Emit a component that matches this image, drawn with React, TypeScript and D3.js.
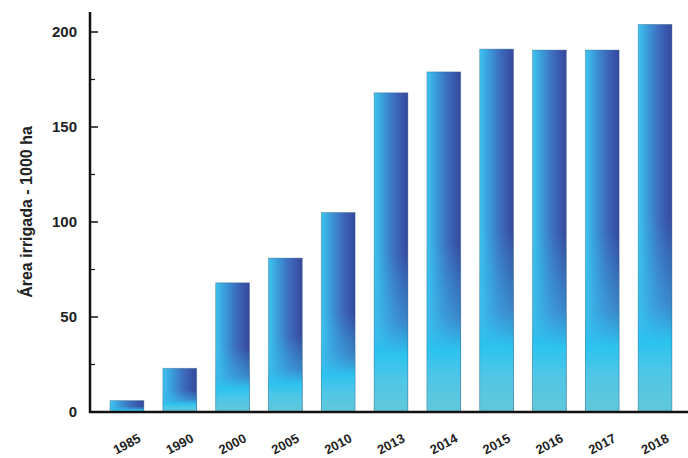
import React from "react";
import * as d3 from "d3";

const categories = ["1985", "1990", "2000", "2005", "2010", "2013", "2014", "2015", "2016", "2017", "2018"];
const values = [6, 23, 68, 81, 105, 168, 179, 191, 190.5, 190.5, 204];
const majorTicks = [0, 50, 100, 150, 200];
const minorTicks = [25, 75, 125, 175];
const yLabel = "Área irrigada - 1000 ha";

const W = 688;
const H = 458;

export default function App() {
  const x = d3.scaleBand<string>().domain(categories).range([90, 692]).paddingInner(0.36).paddingOuter(0.38);
  const y = d3.scaleLinear().domain([0, 200]).range([412, 32]);
  const font = "'Liberation Sans', Arial, Helvetica, sans-serif";
  return (
    <svg width={W} height={H} style={{ position: "absolute", left: 0, top: 0, background: "#fff" }} fontFamily={font}>
      <defs>
        <linearGradient id="hg" x1="0" y1="0" x2="1" y2="0">
          <stop offset="0" stopColor="#3ec4ee" />
          <stop offset="0.25" stopColor="#3a9fdc" />
          <stop offset="0.6" stopColor="#3d6dbf" />
          <stop offset="1" stopColor="#37479c" />
        </linearGradient>
        <linearGradient id="vg" x1="0" y1="0" x2="0" y2="1">
          <stop offset="0" stopColor="#2ec3ef" stopOpacity="0" />
          <stop offset="0.5" stopColor="#2ec3ef" stopOpacity="0" />
          <stop offset="0.72" stopColor="#3ab8ea" stopOpacity="0.55" />
          <stop offset="0.82" stopColor="#2cc3ef" stopOpacity="1" />
          <stop offset="0.9" stopColor="#4fc6e6" stopOpacity="1" />
          <stop offset="1" stopColor="#62c8da" stopOpacity="1" />
        </linearGradient>
      </defs>
      {categories.map((c, i) => {
        const bx = x(c)!;
        const by = y(values[i]);
        const bh = y(0) - by;
        return (
          <g key={c}>
            <rect x={bx} y={by} width={x.bandwidth()} height={bh} fill="url(#hg)" />
            <rect x={bx} y={by} width={x.bandwidth()} height={bh} fill="url(#vg)" />
            <rect x={bx} y={by} width={x.bandwidth()} height={bh} fill="none" stroke="#2b5f7a" strokeOpacity={0.45} strokeWidth={0.8} />
          </g>
        );
      })}
      {/* axes */}
      <line x1={90} y1={12} x2={90} y2={413} stroke="#111" strokeWidth={2.5} />
      <line x1={89} y1={412} x2={688} y2={412} stroke="#111" strokeWidth={2.5} />
      {majorTicks.map((t) => (
        <g key={t}>
          <line x1={90} x2={98} y1={y(t)} y2={y(t)} stroke="#111" strokeWidth={1.5} />
          <text x={77} y={y(t)} dy="0.36em" textAnchor="end" fontSize={15} fontWeight="bold" fill="#222">
            {t}
          </text>
        </g>
      ))}
      {minorTicks.map((t) => (
        <line key={t} x1={90} x2={95} y1={y(t)} y2={y(t)} stroke="#111" strokeWidth={1.2} />
      ))}
      {categories.map((c) => {
        const cx = x(c)! + x.bandwidth() / 2;
        return (
          <text
            key={c}
            transform={`translate(${cx + 2},${448}) rotate(-28)`}
            textAnchor="middle"
            fontSize={13}
            fontWeight="bold"
            fill="#222"
          >
            {c}
          </text>
        );
      })}
      <text
        transform={`translate(32,212) rotate(-90)`}
        textAnchor="middle"
        fontSize={16}
        fontWeight="bold"
        fill="#222"
      >
        {yLabel}
      </text>
    </svg>
  );
}
